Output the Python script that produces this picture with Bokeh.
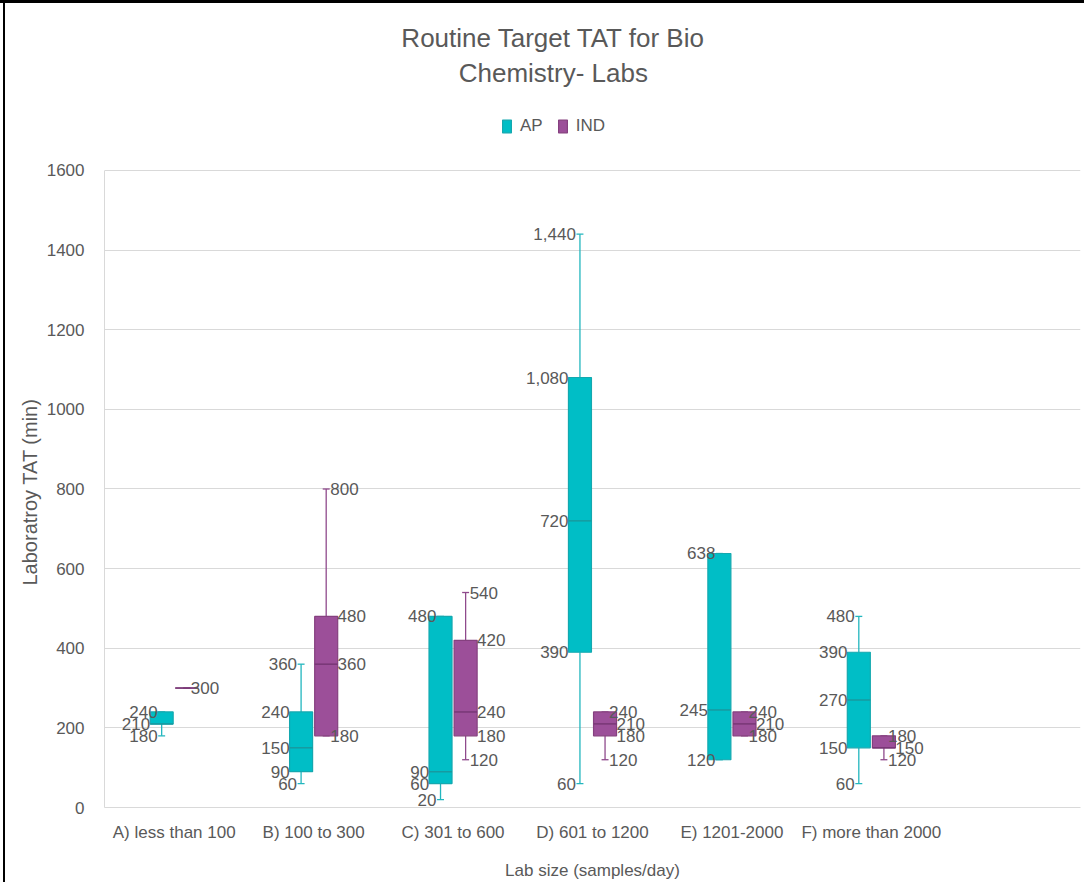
import math
from bokeh.plotting import figure
from bokeh.models import (ColumnDataSource, FactorRange, Range1d, FixedTicker, Label,
                          Legend, LegendItem, Title)
from bokeh.transform import dodge
from bokeh.core.properties import value
from bokeh.embed import file_html
from bokeh.resources import INLINE

# ---------------- data ----------------
categories = ["A) less than 100", "B) 100 to 300", "C) 301 to 600",
              "D) 601 to 1200", "E) 1201-2000", "F) more than 2000"]
slots = categories + [" "]

ap_min = [180, 60, 20, 60, 120, 60]
ap_q1 = [210, 90, 60, 390, 120, 150]
ap_median = [210, 150, 90, 720, 245, 270]
ap_q3 = [240, 240, 480, 1080, 638, 390]
ap_max = [240, 360, 480, 1440, 638, 480]

ind_min = [300, 180, 120, 120, 180, 120]
ind_q1 = [300, 180, 180, 180, 180, 150]
ind_median = [300, 360, 240, 210, 210, 150]
ind_q3 = [300, 480, 420, 240, 240, 180]
ind_max = [300, 800, 540, 240, 240, 180]

y_ticks = [0, 200, 400, 600, 800, 1000, 1200, 1400, 1600]

title_lines = ["Routine Target TAT for Bio", "Chemistry- Labs"]
x_title = "Lab size (samples/day)"
y_title = "Laboratroy  TAT (min)"

# ---------------- style ----------------
FONT = "Liberation Sans"
TXT = "#595959"
GRID = "#D9D9D9"
AP_FILL, AP_LINE, AP_MED, AP_WHISK = "#00BEC6", "#14A8AF", "#179AA0", "#22B6BE"
IND_FILL, IND_LINE, IND_MED, IND_WHISK = "#9C4F99", "#85407F", "#783776", "#8F4A8C"

OFF = 0.09      # dodge of each box from category centre
BW = 0.165      # box width
CAP = 0.025     # half cap width
WL = 0.029      # whisker-label offset
BL = 0.082      # box-label offset


def make_source(mn, q1, med, q3, mx):
    return ColumnDataSource(dict(cat=categories, lo=mn, q1=q1, med=med, q3=q3, hi=mx))


def label_sources(mn, q1, med, q3, mx):
    wc, wv, wt, bc, bv, bt = [], [], [], [], [], []
    for i, c in enumerate(categories):
        seen = []
        for v in (mx[i], q3[i], med[i], q1[i], mn[i]):
            if v in seen:
                continue
            seen.append(v)
            if v == mn[i] or v == mx[i]:
                wc.append(c); wv.append(v); wt.append(f"{v:,}")
            else:
                bc.append(c); bv.append(v); bt.append(f"{v:,}")
    return (ColumnDataSource(dict(cat=wc, y=wv, t=wt)),
            ColumnDataSource(dict(cat=bc, y=bv, t=bt)))


p = figure(x_range=FactorRange(*slots), y_range=Range1d(0, 2027.0),
           frame_width=976, frame_height=807,
           min_border_left=104, min_border_right=4, min_border_top=0, min_border_bottom=10,
           output_backend="svg", toolbar_location=None, title=None)
p.styles = {"box-shadow": "inset 0 3px 0 0 #000000, inset 3px 0 0 0 #ffffff, inset 5px 0 0 0 #000000"}
p.outline_line_color = None
p.background_fill_alpha = 0
p.border_fill_alpha = 0

series = [
    ("AP", -1, (ap_min, ap_q1, ap_median, ap_q3, ap_max), AP_FILL, AP_LINE, AP_MED, AP_WHISK, "right"),
    ("IND", 1, (ind_min, ind_q1, ind_median, ind_q3, ind_max), IND_FILL, IND_LINE, IND_MED, IND_WHISK, "left"),
]

legend_items = []
for name, sgn, stats, fill, line, med, whisk, align in series:
    src = make_source(*stats)
    c = sgn * OFF
    xc = dodge("cat", c, range=p.x_range)
    p.segment(x0=xc, x1=xc, y0="q3", y1="hi", source=src, line_color=whisk, line_width=1.3)
    p.segment(x0=xc, x1=xc, y0="lo", y1="q1", source=src, line_color=whisk, line_width=1.3)
    for fld in ("hi", "lo"):
        p.segment(x0=dodge("cat", c - CAP, range=p.x_range), x1=dodge("cat", c + CAP, range=p.x_range),
                  y0=fld, y1=fld, source=src, line_color=whisk, line_width=1.3)
    box = p.vbar(x=xc, width=BW, bottom="q1", top="q3", source=src,
                 fill_color=fill, line_color=line, line_width=1.2)
    p.segment(x0=dodge("cat", c - BW / 2, range=p.x_range), x1=dodge("cat", c + BW / 2, range=p.x_range),
              y0="med", y1="med", source=src, line_color=med, line_width=1.5)
    legend_items.append(LegendItem(label=name, renderers=[box]))

    wsrc, bsrc = label_sources(*stats)
    for lsrc, lo in ((wsrc, WL), (bsrc, BL)):
        p.text(x=dodge("cat", c + sgn * lo, range=p.x_range), y="y", text="t", source=lsrc,
               text_align=align, text_baseline="middle", text_font=value(FONT),
               text_font_size="17px", text_color=TXT)

legend = Legend(items=legend_items, location=(397, 671), orientation="horizontal",
                glyph_width=11, glyph_height=16, label_standoff=8, spacing=14,
                padding=0, margin=0, border_line_color=None, background_fill_alpha=0,
                label_text_font=FONT, label_text_font_size="17px", label_text_color=TXT)
p.add_layout(legend)

# title lines
for txt, yv in zip(title_lines, (1934.0, 1846.0)):
    p.add_layout(Label(x=3.219, y=yv, text=txt, text_align="center", text_baseline="middle",
                       text_font=FONT, text_font_size="26px", text_color=TXT))

# y axis title (placed in the left panel, measured from the frame bottom)
p.add_layout(Title(text=y_title, align="left", offset=222, text_font=FONT,
                   text_font_size="20px", text_font_style="normal", text_color=TXT,
                   standoff=6), "left")

# axes
p.yaxis.ticker = FixedTicker(ticks=y_ticks)
p.yaxis.bounds = (0, 1600)
p.yaxis.axis_line_color = GRID
p.yaxis.major_tick_line_color = None
p.yaxis.minor_tick_line_color = None
p.yaxis.major_label_text_font = FONT
p.yaxis.major_label_text_font_size = "17px"
p.yaxis.major_label_text_color = TXT
p.yaxis.major_label_standoff = 14

p.xaxis.axis_line_color = GRID
p.xaxis.major_tick_line_color = None
p.xaxis.minor_tick_line_color = None
p.xaxis.major_label_text_font = FONT
p.xaxis.major_label_text_font_size = "17px"
p.xaxis.major_label_text_color = TXT
p.xaxis.major_label_standoff = 9
p.xaxis.axis_label = x_title
p.xaxis.axis_label_text_font = FONT
p.xaxis.axis_label_text_font_size = "17px"
p.xaxis.axis_label_text_font_style = "normal"
p.xaxis.axis_label_text_color = TXT
p.xaxis.axis_label_standoff = 16

p.xgrid.grid_line_color = None
p.ygrid.ticker = FixedTicker(ticks=y_ticks[1:])
p.ygrid.grid_line_color = GRID

open("out.html", "w").write(file_html(p, INLINE))
